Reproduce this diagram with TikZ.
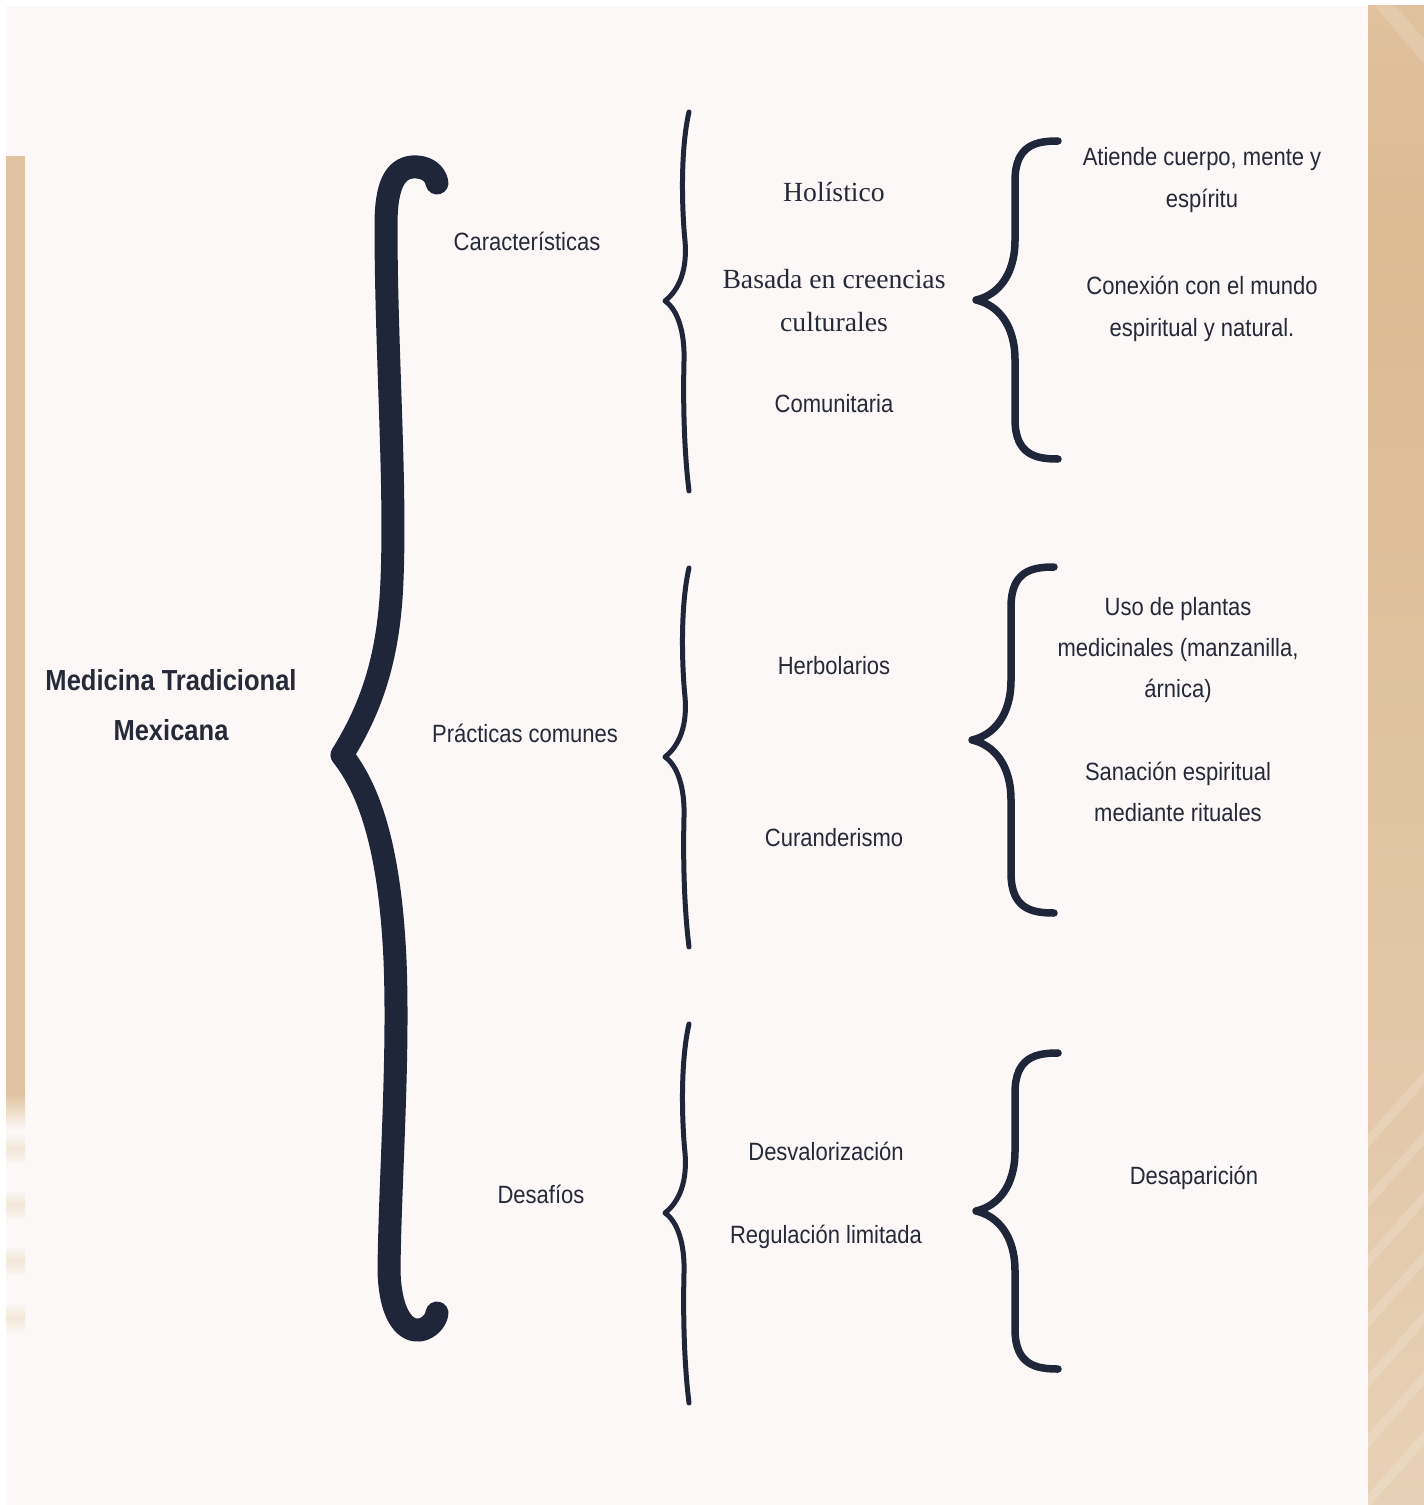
\documentclass[tikz,border=0pt]{standalone}
\usepackage{fontspec}
\setmainfont{Liberation Sans}[FakeStretch=0.88]
\newfontfamily\seriffam{Liberation Serif}
\definecolor{bracec}{HTML}{20263A}
\definecolor{txtc}{HTML}{262A38}
\definecolor{panel}{HTML}{FCF8F7}
\definecolor{beige}{HTML}{E0C4A1}
\definecolor{rsA}{HTML}{F0E1CE}
\definecolor{rsB}{HTML}{ECD9C2}
\definecolor{rsC}{HTML}{E4CBAD}
\definecolor{rsD}{HTML}{DFC19D}
\definecolor{rsE}{HTML}{DCBA92}
\definecolor{rsF}{HTML}{E2C6A5}
\definecolor{rsG}{HTML}{EBD6BB}
\definecolor{rsH}{HTML}{F0DFC8}
\pgfdeclareverticalshading{rstrip}{100bp}{color(0bp)=(rsA); color(13.7bp)=(rsB); color(33.7bp)=(rsC); color(53.7bp)=(rsD); color(67bp)=(rsE); color(80.4bp)=(rsF); color(93.7bp)=(rsG); color(100bp)=(rsH)}
\tikzset{
  lbl/.style={text=txtc, font=\fontsize{25bp}{42bp}\selectfont, align=center, inner sep=0pt},
  slbl/.style={text=txtc, font=\seriffam\fontsize{27.7bp}{43bp}\selectfont, align=center, inner sep=0pt},
  ttl/.style={text=txtc, font=\bfseries\fontsize{29bp}{50bp}\selectfont, align=center, inner sep=0pt},
  bigbrace/.style={draw=bracec, line width=23bp, line cap=round, line join=round},
  thinbrace/.style={draw=bracec, line width=5bp, line cap=round, line join=round},
  midbrace/.style={draw=bracec, line width=7.5bp, line cap=round, line join=round},
  thinbr/.pic={\path[thinbrace] (24,-189) .. controls (15,-150) and (17,-90) .. (20,-60) .. controls (23,-25) and (10,-8) .. (0,0) .. controls (12,8) and (20,30) .. (19,60) .. controls (18,100) and (19,150) .. (24,190);},
  rbr/.pic={\path[midbrace] (82,-#1) .. controls (60,-#1) and (39,-#1+4) .. (39,-#1+40) -- (39,-60) .. controls (39,-25) and (22,-5) .. (0,0) .. controls (22,5) and (39,25) .. (39,60) -- (39,#1-40) .. controls (39,#1-4) and (60,#1) .. (82,#1);}
}
\begin{document}
\begin{tikzpicture}[x=1bp,y=-1bp]
\useasboundingbox (0,0) rectangle (1424,1505);
% background
\fill[white] (0,0) rectangle (1424,1505);
\fill[panel] (6,6) rectangle (1368,1505);
% left strip
\fill[beige] (6,156) rectangle (25,1095);
\shade[top color=beige, bottom color=panel] (6,1094) rectangle (25,1130);
\foreach \ya in {1134,1190,1246,1303}{
  \shade[top color=panel, bottom color=panel, middle color=beige!42] (6,\ya) rectangle (25,\ya+30);
}
% right strip
\shade[shading=rstrip] (1368,6) rectangle (1424,1505);
\begin{scope}
\clip (1368,6) rectangle (1424,1505);
\foreach \ya in {1120,1180,1240,1300,1360,1420,1480}{
  \draw[white, opacity=0.16, line width=9bp] (1440,\ya-60) -- (1360,\ya+30);
}
\draw[white, opacity=0.15, line width=16bp] (1440,70) -- (1380,0);
\end{scope}
% big brace
\path[bigbrace] (437,183) .. controls (435,172) and (425,166) .. (412,167) .. controls (395,169) and (386,185) .. (386,225)
  .. controls (386,350) and (396,480) .. (392,580) .. controls (389,660) and (370,710) .. (342,755)
  .. controls (370,790) and (390,850) .. (395,960) .. controls (399,1060) and (390,1180) .. (389,1270)
  .. controls (390,1315) and (405,1332) .. (420,1330) .. controls (430,1328) and (436,1320) .. (437,1313);
% thin braces
\pic at (665,301) {thinbr};
\pic at (665,757) {thinbr};
\pic at (665,1213) {thinbr};
% right braces
\pic at (976,300) {rbr=159};
\pic at (972,740) {rbr=173};
\pic at (976,1211) {rbr=158};
% texts
\node[ttl] (title) at (171,705) {Medicina Tradicional\\Mexicana};
\node[lbl] (car) at (527,241) {Características};
\node[lbl] (prac) at (525,733) {Prácticas comunes};
\node[lbl] (desf) at (541,1194) {Desafíos};
\node[slbl] (hol) at (834,192) {Holístico};
\node[slbl] (bas) at (834,301) {Basada en creencias\\culturales};
\node[lbl] (com) at (834,404) {Comunitaria};
\node[lbl] (ati) at (1202,180) {Atiende cuerpo, mente y\\espíritu};
\node[lbl] (con) at (1202,309) {Conexión con el mundo\\espiritual y natural.};
\node[lbl] (her) at (834,666) {Herbolarios};
\node[lbl] (cur) at (834,838) {Curanderismo};
\node[lbl, font=\fontsize{25bp}{41bp}\selectfont] (uso) at (1178,650) {Uso de plantas\\medicinales (manzanilla,\\árnica)};
\node[lbl, font=\fontsize{25bp}{41bp}\selectfont] (san) at (1178,792) {Sanación espiritual\\mediante rituales};
\node[lbl] (desv) at (826,1151) {Desvalorización};
\node[lbl] (reg) at (826,1237) {Regulación limitada};
\node[lbl] (desap) at (1194,1178) {Desaparición};
\end{tikzpicture}
\end{document}
